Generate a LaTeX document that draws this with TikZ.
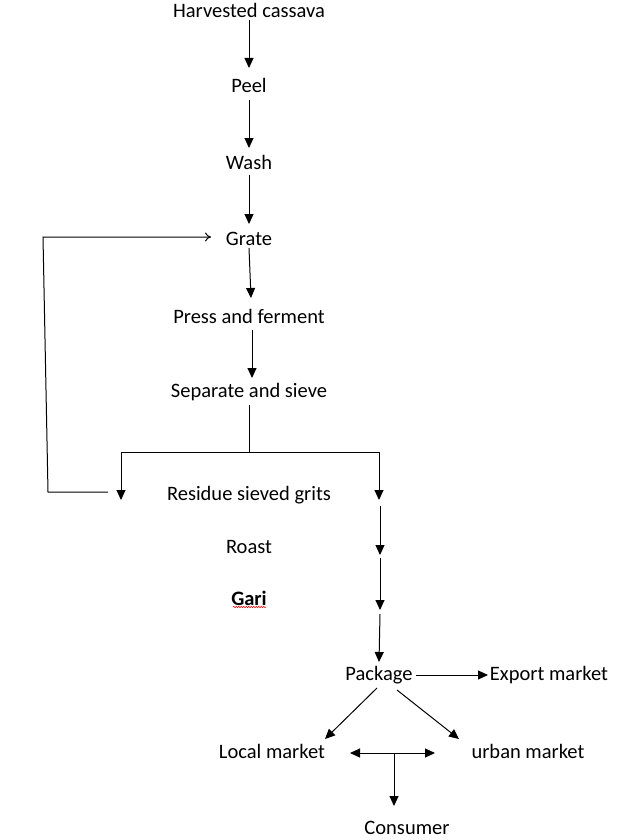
\documentclass[tikz,border=0pt]{standalone}
\usepackage{fontspec}
\setmainfont{Carlito}
\usetikzlibrary{arrows.meta,decorations.pathmorphing}
\begin{document}
\begin{tikzpicture}[x=1pt,y=-1pt,
  lbl/.style={inner sep=0pt,font=\fontsize{20.5}{24}\selectfont},
  tip/.style={},
  arr/.style={line width=1pt,-{Triangle[length=10pt,width=9pt]}},
  ln/.style={line width=1pt},
  openarr/.style={line width=1pt,-{To[length=6pt,width=9pt]}}]
\useasboundingbox[fill=white] (0,0) rectangle (619,840);
% nodes
\node[lbl] (harv) at (249,10) {Harvested cassava};
\node[lbl] (peel) at (249,85) {Peel};
\node[lbl] (wash) at (249,162) {Wash};
\node[lbl] (grate) at (249,239) {Grate};
\node[lbl] (press) at (249,316) {Press and ferment};
\node[lbl] (sep) at (249,392) {Separate and sieve};
\node[lbl] (res) at (249,495) {Residue sieved grits};
\node[lbl] (roast) at (249,547) {Roast};
\node[lbl,font=\fontsize{20.5}{24}\selectfont\bfseries] (gari) at (249,598) {Gari};
\node[lbl] (pack) at (379,675) {Package};
\node[lbl] (exp) at (549,675) {Export market};
\node[lbl] (local) at (272,751) {Local market};
\node[lbl] (urban) at (528,751) {urban market};
\node[lbl] (cons) at (407,828) {Consumer};
% coordinates
\coordinate (j) at (249,452);
\coordinate (jl) at (121,452);
\coordinate (jr) at (379,452);
\coordinate (lt) at (121,500);
\coordinate (r1) at (379,500);
\coordinate (r2a) at (380,506);
\coordinate (r2b) at (380,555);
\coordinate (r3a) at (380,558);
\coordinate (r3b) at (380,610);
\coordinate (r4a) at (380,614);
\coordinate (fb0) at (108,492);
\coordinate (fb1) at (48,492);
\coordinate (fb2) at (43,237);
\coordinate (fb3) at (211,237);
\coordinate (da) at (350,753);
\coordinate (db) at (435,753);
\coordinate (dm) at (394,753);
\coordinate (dc) at (394,806);
% main chain
\draw[arr] ([yshift=-10pt]harv.center) -- ([yshift=17pt]peel.center);
\draw[arr] ([yshift=-15pt]peel.center) -- ([yshift=14pt]wash.center);
\draw[arr] ([yshift=-13pt]wash.center) -- ([yshift=15pt]grate.center);
\draw[arr] ([yshift=-9pt]grate.center) -- ([xshift=2pt,yshift=18pt]press.center);
\draw[arr] ([xshift=3pt,yshift=-14pt]press.center) -- ([xshift=3pt,yshift=14pt]sep.center);
\draw[ln] ([yshift=-13pt]sep.center) -- (j);
\draw[ln] (jl) -- (jr);
\draw[arr] (jl) -- (lt);
\draw[arr] (jr) -- (r1);
\draw[arr] (r2a) -- (r2b);
\draw[arr] (r3a) -- (r3b);
\draw[arr] (r4a) -- ([yshift=13pt]pack.center);
% feedback loop
\draw[openarr] (fb0) -- (fb1) -- (fb2) -- (fb3);
% spell-check squiggle
\draw[red,line width=0.5pt,decorate,decoration={snake,amplitude=0.8pt,segment length=2.5pt}] (233,607) -- (266,607);
% markets
\draw[arr] ([xshift=37pt]pack.center) -- ([xshift=-61pt]exp.center);
\draw[arr] ([xshift=-2pt,yshift=-13pt]pack.center) -- ([xshift=53pt,yshift=12pt]local.center);
\draw[arr] ([xshift=18pt,yshift=-15pt]pack.center) -- ([xshift=-69pt,yshift=12pt]urban.center);
\draw[line width=1pt,{Triangle[length=10pt,width=9pt]}-{Triangle[length=10pt,width=9pt]}] (da) -- (db);
\draw[arr] (dm) -- (dc);
\end{tikzpicture}
\end{document}
